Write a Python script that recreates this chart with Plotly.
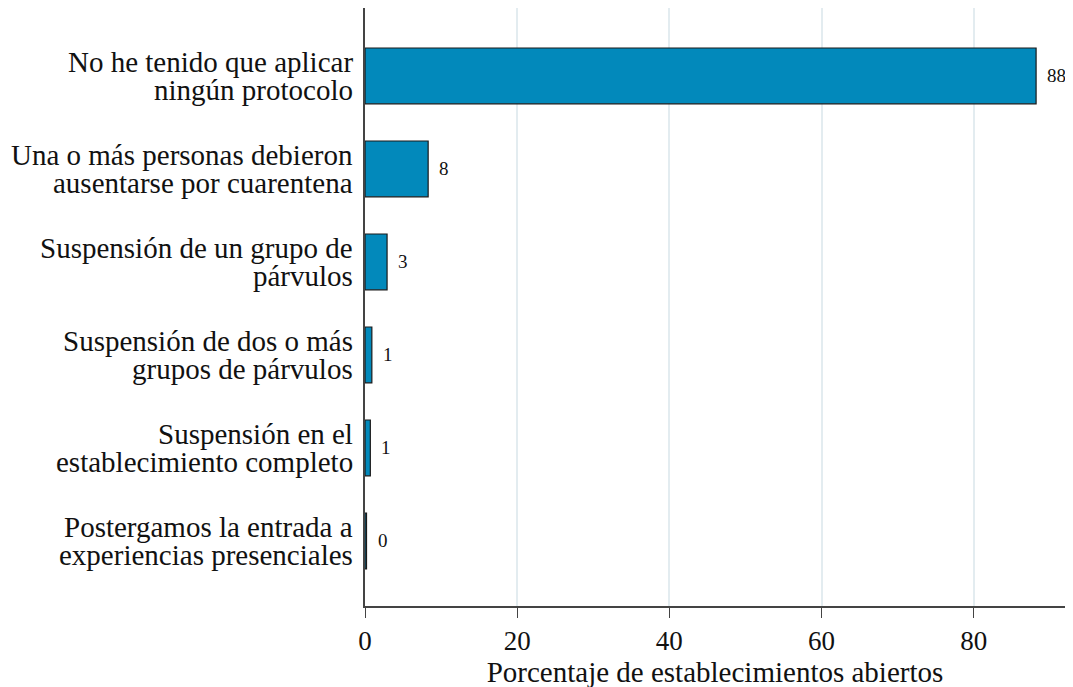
import plotly.graph_objects as go

categories = [
    'No he tenido que aplicar<br>ningún protocolo',
    'Una o más personas debieron<br>ausentarse por cuarentena',
    'Suspensión de un grupo de<br>párvulos',
    'Suspensión de dos o más<br>grupos de párvulos',
    'Suspensión en el<br>establecimiento completo',
    'Postergamos la entrada a<br>experiencias presenciales',
]
values = [88.2, 8.3, 2.9, 0.9, 0.7, 0.2]
labels = ['88', '8', '3', '1', '1', '0']
x_ticks = [0, 20, 40, 60, 80]

font = 'Liberation Serif, Times New Roman, serif'
ink = '#111111'

fig = go.Figure()
fig.add_trace(go.Bar(
    x=values, y=categories, orientation='h', width=0.6,
    marker=dict(color='#0289bb', line=dict(color='#1a1a1a', width=1.2)),
))

# value labels just right of each bar
for v, c, t in zip(values, categories, labels):
    fig.add_annotation(x=v, y=c, text=t, showarrow=False, xanchor='left',
                       xshift=9, font=dict(family=font, size=19, color=ink))

# category labels drawn line by line (tight line spacing like the original)
for c in categories:
    lines = c.split('<br>')
    for i, ln in enumerate(lines):
        fig.add_annotation(x=0, xref='paper', y=c, text=ln, showarrow=False,
                           xanchor='right', xshift=-10,
                           yshift=14 * (len(lines) - 1) - 28 * i,
                           font=dict(family=font, size=29, color=ink))

fig.update_layout(
    width=1073, height=687,
    margin=dict(l=357, r=16, t=0, b=89, autoexpand=False),
    paper_bgcolor='white', plot_bgcolor='white',
    font=dict(family=font, size=27, color=ink),
    showlegend=False,
    xaxis=dict(
        range=[0, 92], tickvals=x_ticks,
        showgrid=True, gridcolor='#e3ecf0', gridwidth=1.5,
        showline=True, linecolor='#444444', linewidth=1.5,
        ticks='outside', ticklen=10, tickcolor='#444444',
        zeroline=False,
        title=dict(text='Porcentaje de establecimientos abiertos', standoff=0,
                   font=dict(family=font, size=29, color=ink)),
        tickfont=dict(family=font, size=27, color=ink),
    ),
    yaxis=dict(
        range=[5.7, -0.73], automargin=False,
        showline=True, linecolor='#444444', linewidth=1.5,
        showgrid=False, ticks='', showticklabels=False,
    ),
)

fig.write_html('out.html')
